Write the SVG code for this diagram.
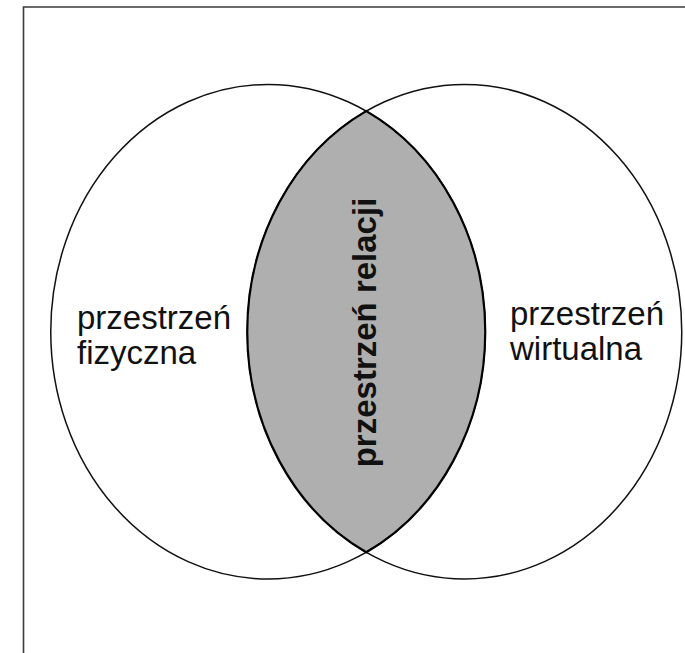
<svg xmlns="http://www.w3.org/2000/svg" width="685" height="653" viewBox="0 0 685 653">
<style>
.frame{fill:none;stroke:#3a3a3a;stroke-width:1.6}
.set{fill:none;stroke:#111;stroke-width:1.5}
.lens{fill:#afafaf;stroke:#000;stroke-width:2.2;stroke-linejoin:miter}
.lbl{font-family:"Liberation Sans",Arial,sans-serif;font-size:33px;fill:#111}
.lblb{font-family:"Liberation Sans",Arial,sans-serif;font-size:33px;font-weight:bold;fill:#111}
</style>
<rect width="685" height="653" fill="#fff"/>
<path class="frame" d="M23.5 653 V7 H685"/>
<g id="physical">
<ellipse class="set" cx="268" cy="331.7" rx="217.25" ry="247.3"/>
<text class="lbl"><tspan x="77" y="329">przestrzeń</tspan><tspan x="77" y="364">fizyczna</tspan></text>
</g>
<g id="virtual">
<ellipse class="set" cx="464.5" cy="331.7" rx="217.25" ry="247.3"/>
<text class="lbl"><tspan x="510" y="325">przestrzeń</tspan><tspan x="510" y="360">wirtualna</tspan></text>
</g>
<g id="relations">
<path class="lens" d="M366.25 111.13 A217.25 247.3 0 0 0 366.25 552.27 A217.25 247.3 0 0 0 366.25 111.13 Z"/>
<text class="lblb" x="376" y="332.5" text-anchor="middle" transform="rotate(-90 376 332.5)">przestrzeń relacji</text>
</g>
<g id="connectors"/>
</svg>
